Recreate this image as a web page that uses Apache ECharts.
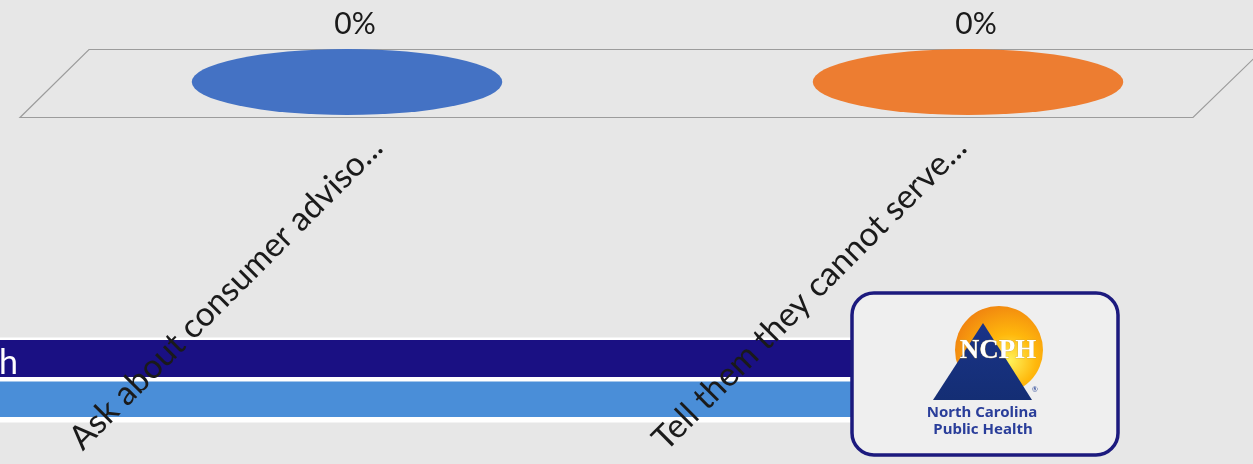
<!DOCTYPE html>
<html><head><meta charset="utf-8">
<script src="https://cdn.jsdelivr.net/npm/echarts@6/dist/echarts.min.js"></script>
<style>html,body{margin:0;padding:0;background:#e7e7e7;}#c{width:1253px;height:464px;}</style>
</head><body><div id="c"></div>
<script>
// ---- data ----
const categories = ['Ask about consumer adviso...', 'Tell them they cannot serve...'];
const values = [0, 0];
const seriesColors = ['#4472c4', '#ed7d31'];
const valueSuffix = '%';

const FONT = 'Lato';
const chart = echarts.init(document.getElementById('c'), null, {renderer: 'canvas'});

const option = {
  backgroundColor: '#e7e7e7',
  animation: false,
  grid: [
    {left: 0, right: 0, top: 20, height: 62},
    {left: 85, right: 0, top: 20, height: 114}
  ],
  xAxis: [
    {type: 'value', gridIndex: 0, min: -0.5588, max: 1.4589, show: false},
    {type: 'category', gridIndex: 1, data: categories, z: 50,
     axisLine: {show: false}, axisTick: {show: false}, splitLine: {show: false},
     axisLabel: {rotate: 45, interval: 0, margin: 8, fontFamily: FONT, fontSize: 33.5, color: '#1a1a1a'}}
  ],
  yAxis: [
    {type: 'value', gridIndex: 0, min: 0, max: 100, show: false},
    {type: 'value', gridIndex: 1, min: 0, max: 100, show: false}
  ],
  series: [{
    type: 'custom',
    xAxisIndex: 0, yAxisIndex: 0,
    z: 5,
    data: values.map((v, i) => [i, v]),
    renderItem: function (params, api) {
      const i = api.value(0), v = api.value(1);
      const p = api.coord([i, v]);
      const base = api.coord([i, 0]);
      const band = api.size([1, 0])[0];
      const rx = band * 0.25, ry = 33;
      const children = [];
      if (base[1] - p[1] > 0.5) {
        children.push({type: 'rect', shape: {x: p[0] - rx, y: p[1], width: 2 * rx, height: base[1] - p[1]}, style: {fill: seriesColors[i]}});
      }
      children.push({type: 'circle', x: p[0], y: p[1], scaleY: ry / rx, shape: {cx: 0, cy: 0, r: rx}, style: {fill: seriesColors[i]}});
      children.push({type: 'text', x: p[0] + 8, y: p[1] - 58,
        style: {text: v + valueSuffix, fontSize: 30, fontFamily: FONT, fill: '#1a1a1a', align: 'center', verticalAlign: 'middle'}});
      return {type: 'group', children: children};
    }
  }],
  graphic: [
    {type: 'polygon', z: 1, shape: {points: [[89, 49.5], [1263, 49.5], [1193, 117.5], [20, 117.5]]},
     style: {fill: 'none', stroke: '#9c9c9c', lineWidth: 1.2}},
    {type: 'rect', z: 1, shape: {x: 0, y: 337.5, width: 860, height: 85}, style: {fill: '#ffffff'}},
    {type: 'rect', z: 1, shape: {x: 0, y: 340, width: 860, height: 37}, style: {fill: '#1a1083'}},
    {type: 'rect', z: 1, shape: {x: 0, y: 381.5, width: 860, height: 35.5}, style: {fill: '#4a8ed8'}},
    {type: 'text', z: 1, x: 18, y: 363, style: {text: 'Public Health', fontFamily: FONT, fontSize: 34, fill: '#ffffff', align: 'right', verticalAlign: 'middle'}},
    {type: 'rect', z: 3, shape: {x: 852, y: 293, width: 266, height: 162, r: 22},
     style: {fill: '#efefef', stroke: '#1c1a7e', lineWidth: 3.5}},
    {type: 'circle', z: 4, shape: {cx: 999, cy: 350, r: 44},
     style: {fill: new echarts.graphic.RadialGradient(0.62, 0.62, 0.75, [
       {offset: 0, color: '#fff25a'}, {offset: 0.4, color: '#ffb80c'}, {offset: 1, color: '#ee7a10'}])}},
    {type: 'polygon', z: 5, shape: {points: [[983, 323], [1032, 400], [933, 400]]},
     style: {fill: new echarts.graphic.LinearGradient(0, 0, 0, 1, [{offset: 0, color: '#1a3388'}, {offset: 1, color: '#142e74'}])}},
    {type: 'text', z: 6, x: 998, y: 351, style: {text: 'NCPH', fontFamily: 'Liberation Serif', fontWeight: 'bold', fontSize: 27, fill: '#ffffff', align: 'center', verticalAlign: 'middle', stroke: '#c8a040', lineWidth: 0.5}},
    {type: 'text', z: 6, x: 1035, y: 390, style: {text: '®', fontFamily: FONT, fontSize: 7, fill: '#1b3a8f', align: 'center', verticalAlign: 'middle'}},
    {type: 'text', z: 6, x: 982, y: 413, style: {text: 'North Carolina', fontFamily: 'Noto Sans', fontWeight: 'bold', fontSize: 15, fill: '#2a3e9a', align: 'center', verticalAlign: 'middle'}},
    {type: 'text', z: 6, x: 983, y: 430, style: {text: 'Public Health', fontFamily: 'Noto Sans', fontWeight: 'bold', fontSize: 15, fill: '#2a3e9a', align: 'center', verticalAlign: 'middle'}}
  ]
};
chart.setOption(option);
</script>
</body></html>
